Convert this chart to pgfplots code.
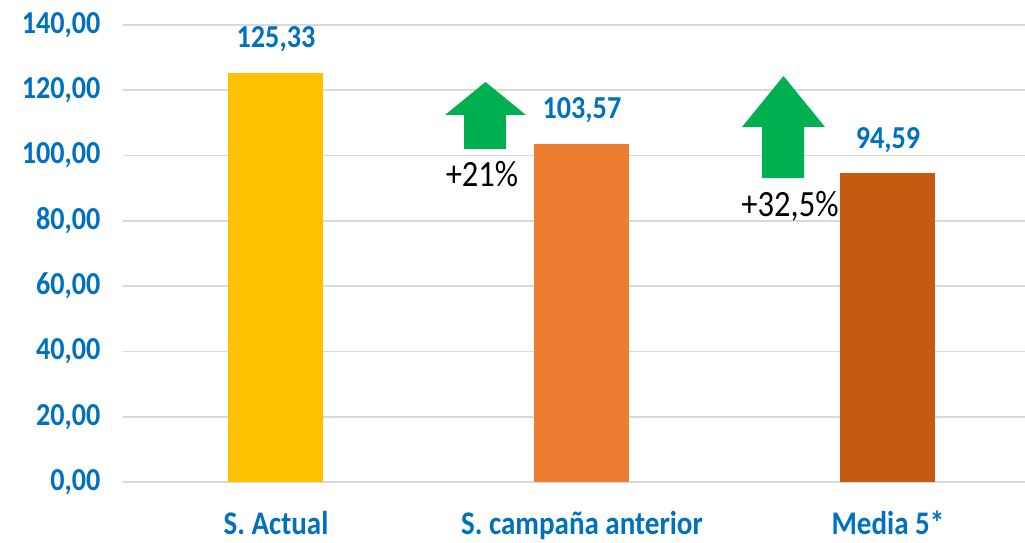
\documentclass[border=0pt]{standalone}
\usepackage{pgfplots}
\pgfplotsset{compat=1.18}
\usepackage{fontspec}
\setmainfont{Carlito}[FakeStretch=0.88]
\definecolor{cblue}{HTML}{0070C0}
\definecolor{cgold}{HTML}{FFC000}
\definecolor{corange}{HTML}{ED7D31}
\definecolor{cdark}{HTML}{C55A11}
\definecolor{cgreen}{HTML}{00B050}
\definecolor{cgrid}{HTML}{D9D9D9}
\begin{document}
\begin{tikzpicture}
\begin{axis}[
  at={(123pt,60pt)}, anchor=south west,
  scale only axis, width=902pt, height=457pt,
  xmin=-0.5, xmax=2.448, ymin=0, ymax=140,
  ytick={0,20,...,140},
  xtick={0,1,2},
  xticklabels={S. Actual, S. campaña anterior, Media 5*},
  axis line style={draw=none},
  major tick length=0pt,
  ymajorgrids, major grid style={cgrid, line width=1.6pt},
  /pgf/number format/.cd, fixed, fixed zerofill, precision=2, use comma, 1000 sep={}, assume math mode=true,
  /pgfplots/.cd,
  yticklabel style={font=\fontsize{32}{36}\selectfont\bfseries, text=cblue, xshift=-19pt},
  xticklabel style={font=\fontsize{33}{38}\selectfont\bfseries, text=cblue, anchor=base, inner sep=0pt, yshift=-52pt},
  ybar, bar width=95pt, bar shift=0pt,
  nodes near coords,
  every node near coord/.append style={font=\fontsize{32}{36}\selectfont\bfseries, text=cblue, anchor=base, yshift=25pt},
]
\addplot[fill=cgold, draw=none] coordinates {(0,125.33)};
\addplot[fill=corange, draw=none] coordinates {(1,103.57)};
\addplot[fill=cdark, draw=none] coordinates {(2,94.59)};
\end{axis}
% annotation arrows
\fill[cgreen] (485.5pt,460pt) -- (526pt,427pt) -- (506pt,427pt) -- (506pt,393pt) -- (464pt,393pt) -- (464pt,427pt) -- (445pt,427pt) -- cycle;
\fill[cgreen] (783.5pt,466pt) -- (825pt,415pt) -- (804pt,415pt) -- (804pt,364pt) -- (762pt,364pt) -- (762pt,415pt) -- (742pt,415pt) -- cycle;
\node[anchor=base, inner sep=0pt, font=\fontsize{37}{40}\selectfont] at (482pt,356pt) {+21\%};
\node[anchor=base, inner sep=0pt, font=\fontsize{37}{40}\selectfont] at (790pt,326pt) {+32,5\%};
\pgfresetboundingbox
\path[use as bounding box] (0pt,0pt) rectangle (1025pt,542pt);
\end{tikzpicture}
\end{document}
